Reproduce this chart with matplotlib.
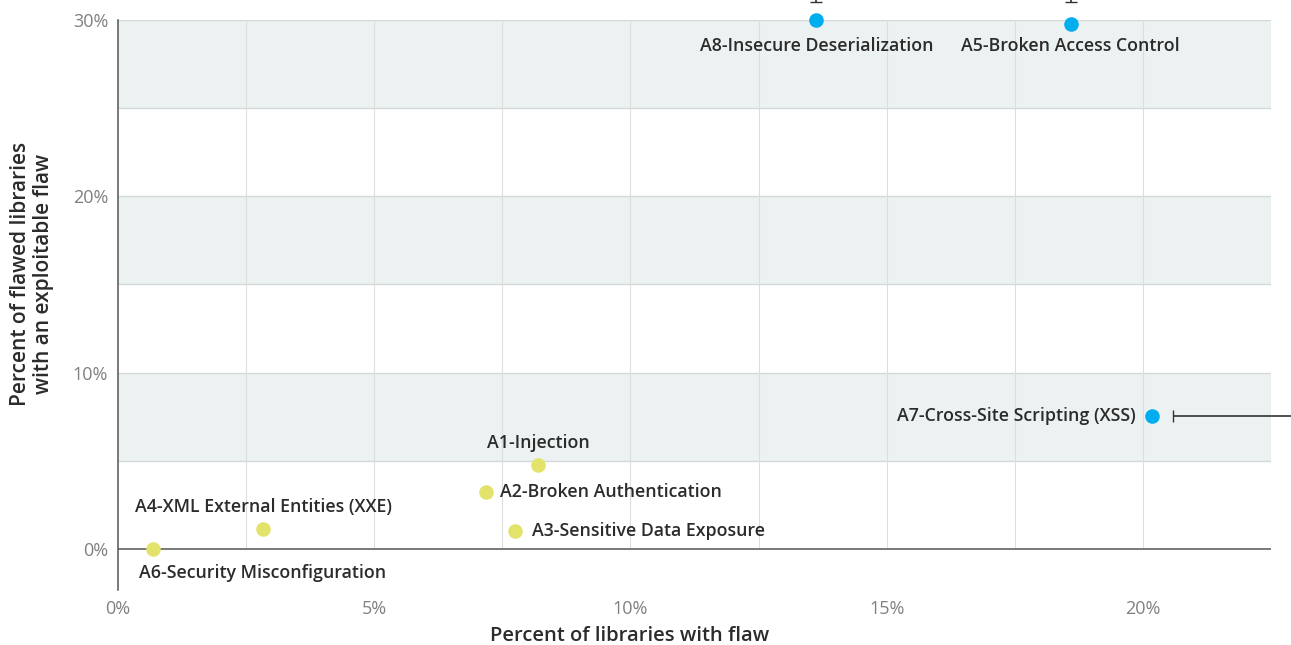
import numpy as np
import matplotlib.pyplot as plt

plt.rcParams['font.family'] = ['Open Sans', 'DejaVu Sans']

names = ["A1-Injection", "A2-Broken Authentication", "A3-Sensitive Data Exposure",
         "A4-XML External Entities (XXE)", "A5-Broken Access Control",
         "A6-Security Misconfiguration", "A7-Cross-Site Scripting (XSS)",
         "A8-Insecure Deserialization"]
pct_flaw = [8.20, 7.19, 7.75, 2.83, 18.59, 0.68, 20.18, 13.63]
pct_exploit = [4.76, 3.23, 1.02, 1.13, 29.78, 0.0, 7.54, 30.0]
group = ["low", "low", "low", "low", "high", "low", "high", "high"]

x_ticks = [0, 5, 10, 15, 20]
y_ticks = [0, 10, 20, 30]

colors = {"low": "#e3e36b", "high": "#00aeef"}
# label offsets in points and alignment
label_pos = {
    "A1-Injection": (0, 16, "center"),
    "A2-Broken Authentication": (10, 0, "left"),
    "A3-Sensitive Data Exposure": (12, 0, "left"),
    "A4-XML External Entities (XXE)": (0, 16, "center"),
    "A5-Broken Access Control": (0, -16, "center"),
    "A6-Security Misconfiguration": (79, -17, "center"),
    "A7-Cross-Site Scripting (XSS)": (-12, 0, "right"),
    "A8-Insecure Deserialization": (0, -19, "center"),
}

fig = plt.figure(figsize=(12.91, 6.45), dpi=100)
ax = fig.add_axes([0.0914, 0.0853, 0.8931, 0.8837])
ax.set_xlim(0, 22.5)
ax.set_ylim(-2.33, 30)

# shaded bands
for lo in [5, 15, 25]:
    ax.axhspan(lo, lo + 5, color="#ecf2f2", zorder=0, lw=0)
for yv in np.arange(5, 31, 5):
    ax.axhline(yv, color="#d5d8d8", lw=1, zorder=1)
ax.vlines(np.arange(2.5, 22.6, 2.5), 0, 30, color="#dddddd", lw=0.8, zorder=1)
ax.axhline(0, color="#555555", lw=1.1, zorder=2)

for n, xv, yv, g in zip(names, pct_flaw, pct_exploit, group):
    ax.scatter(xv, yv, s=110, color=colors[g], zorder=4, clip_on=False, lw=0)
    dx, dy, ha = label_pos[n]
    ax.annotate(n, (xv, yv), xytext=(dx, dy), textcoords="offset points",
                ha=ha, va="center", fontsize=12.8, fontweight="semibold",
                color="#2b2b2b", zorder=5, annotation_clip=False)

# error bars running out of the plot area
ax.errorbar([13.63, 18.59], [32.2, 32.2], yerr=[[1.2, 1.2], [0, 0]], fmt="none",
            ecolor="#333333", elinewidth=1.2, capsize=4, clip_on=False)
ax.errorbar([23.5], [7.54], xerr=[[2.92], [0]], fmt="none",
            ecolor="#333333", elinewidth=1.2, capsize=4, clip_on=False)

ax.set_xticks(x_ticks)
ax.set_xticklabels([f"{v}%" for v in x_ticks])
ax.set_yticks(y_ticks)
ax.set_yticklabels([f"{v}%" for v in y_ticks])
ax.tick_params(length=0, labelsize=13, labelcolor="#808080", pad=7)
for s in ["top", "right", "bottom"]:
    ax.spines[s].set_visible(False)
ax.spines["left"].set_color("#555555")
ax.spines["left"].set_linewidth(1.1)

fig.text(630 / 1291, 1 - 636 / 645, "Percent of libraries with flaw", ha="center",
         va="center", fontsize=14.5, fontweight="semibold", color="#2b2b2b")
fig.text(32 / 1291, 1 - 274 / 645, "Percent of flawed libraries\nwith an exploitable flaw",
         ha="center", va="center", rotation=90, fontsize=15, fontweight="semibold",
         color="#2b2b2b", linespacing=1.1)

fig.savefig("out.png", dpi=100)
